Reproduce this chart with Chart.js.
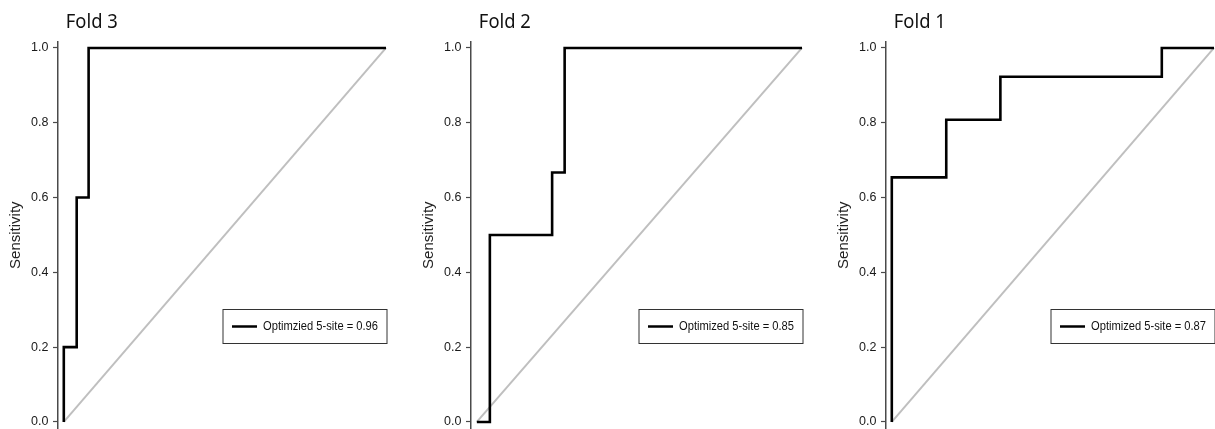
<!DOCTYPE html>
<html>
<head>
<meta charset="utf-8">
<script src="https://cdn.jsdelivr.net/npm/chart.js@4.4.1/dist/chart.umd.min.js"></script>
<style>
  html, body { margin: 0; padding: 0; background: #fff; overflow: hidden; }
  #wrap { position: relative; width: 1215px; height: 429px; }
  canvas { position: absolute; top: 0; }
</style>
</head>
<body>
<div id="wrap">
  <canvas id="fold3" width="388" height="429" style="left:0px"></canvas>
  <canvas id="fold2" width="391" height="429" style="left:413px"></canvas>
  <canvas id="fold1" width="387" height="429" style="left:828px"></canvas>
</div>
<script>
// y ticks and reference diagonal
const yTicks = [0, 0.2, 0.4, 0.6, 0.8, 1.0];
const diagX = [0, 1];
const diagY = [0, 1];

// ROC step curves (false positive rate / sensitivity)
const fold3Fpr = [0, 0, 0.04, 0.04, 0.077, 0.077, 1];
const fold3Tpr = [0, 0.2, 0.2, 0.6, 0.6, 1, 1];

const fold2Fpr = [0, 0.04, 0.04, 0.2315, 0.2315, 0.27, 0.27, 1];
const fold2Tpr = [0, 0, 0.5, 0.5, 0.667, 0.667, 1, 1];

const fold1Fpr = [0, 0, 0.169, 0.169, 0.337, 0.337, 0.838, 0.838, 1];
const fold1Tpr = [0, 0.654, 0.654, 0.808, 0.808, 0.923, 0.923, 1, 1];

const foldTitles = ['Fold 3', 'Fold 2', 'Fold 1'];
const legendLabels = ['Optimzied 5-site = 0.96', 'Optimized 5-site = 0.85', 'Optimized 5-site = 0.87'];

const toPoints = (xs, ys) => xs.map((x, i) => ({ x, y: ys[i] }));

// panel title drawn above the plot, aligned with x = 0
const panelTitle = {
  id: 'panelTitle',
  afterDraw(chart, args, opts) {
    const { ctx, scales } = chart;
    ctx.save();
    ctx.font = '20px "Noto Sans"';
    ctx.fillStyle = '#111';
    ctx.textBaseline = 'alphabetic';
    ctx.fillText(opts.text, scales.x.getPixelForValue(0) + 2, 28, 52);
    ctx.restore();
  }
};

// boxed legend in the lower right of the plot
const rocLegend = {
  id: 'rocLegend',
  afterDatasetsDraw(chart) {
    const { ctx, chartArea, scales } = chart;
    const ds = chart.data.datasets[0];
    const right = chartArea.right + 1;
    const left = right - 164;
    const top = Math.round(scales.y.getPixelForValue(0.302)) + 0.5;
    const h = 34;
    ctx.save();
    ctx.fillStyle = '#fff';
    ctx.fillRect(left, top, right - left, h);
    ctx.strokeStyle = '#333';
    ctx.lineWidth = 1;
    ctx.strokeRect(left, top, right - left, h);
    const cy = top + h / 2;
    ctx.beginPath();
    ctx.moveTo(left + 9, cy);
    ctx.lineTo(left + 34, cy);
    ctx.strokeStyle = ds.borderColor;
    ctx.lineWidth = 2.5;
    ctx.stroke();
    ctx.font = '12.5px "Liberation Sans", Arial, sans-serif';
    ctx.fillStyle = '#111';
    ctx.textBaseline = 'middle';
    ctx.fillText(ds.label, left + 40, cy + 0.5, 115);
    ctx.restore();
  }
};

function makeRoc(id, title, label, xs, ys, padRight) {
  new Chart(document.getElementById(id), {
    type: 'line',
    data: {
      datasets: [
        { label, data: toPoints(xs, ys), borderColor: '#000', borderWidth: 2.6,
          pointRadius: 0, tension: 0, clip: false },
        { label: 'ref', data: toPoints(diagX, diagY), borderColor: '#bfbfbf', borderWidth: 2,
          pointRadius: 0, tension: 0, clip: false }
      ]
    },
    options: {
      responsive: false,
      animation: false,
      devicePixelRatio: 1,
      layout: { padding: { top: 41.6, bottom: 0.3, left: 0, right: padRight } },
      plugins: {
        legend: { display: false },
        tooltip: { enabled: false },
        panelTitle: { text: title }
      },
      scales: {
        x: { type: 'linear', min: -0.018, max: 1, display: false },
        y: {
          type: 'linear', min: -0.018, max: 1.017,
          afterBuildTicks: s => { s.ticks = yTicks.map(v => ({ value: v })); },
          afterFit: s => { s.width = 58; s.paddingTop = 0; s.paddingBottom = 0; },
          border: { display: true, color: '#4a4a4a', width: 1.5 },
          grid: { drawOnChartArea: false, drawTicks: true, tickLength: 5, color: '#4a4a4a', tickWidth: 1.2 },
          ticks: { padding: 4.5, color: '#1a1a1a', font: { family: '"Liberation Sans", Arial', size: 12.5 },
                   callback: v => v.toFixed(1) },
          title: { display: true, text: 'Sensitivity', color: '#222',
                   font: { family: '"Liberation Sans", Arial', size: 15 },
                   padding: { top: 7, bottom: 0 } }
        }
      }
    },
    plugins: [panelTitle, rocLegend]
  });
}

makeRoc('fold3', foldTitles[0], legendLabels[0], fold3Fpr, fold3Tpr, 2);
makeRoc('fold2', foldTitles[1], legendLabels[1], fold2Fpr, fold2Tpr, 2);
makeRoc('fold1', foldTitles[2], legendLabels[2], fold1Fpr, fold1Tpr, 1);
</script>
</body>
</html>
